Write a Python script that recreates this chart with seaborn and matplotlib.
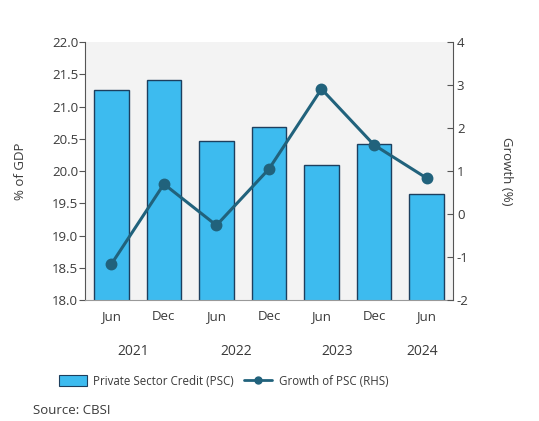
import numpy as np
import pandas as pd
import matplotlib
matplotlib.use("Agg")
import matplotlib.pyplot as plt
import matplotlib.transforms as mtransforms
from matplotlib.patches import Patch
from matplotlib.lines import Line2D
import seaborn as sns

# Private sector credit (% of GDP) and its growth (%), half-yearly
periods = ["Jun 2021", "Dec 2021", "Jun 2022", "Dec 2022", "Jun 2023", "Dec 2023", "Jun 2024"]
month_labels = ["Jun", "Dec", "Jun", "Dec", "Jun", "Dec", "Jun"]
year_labels = ["2021", "2022", "2023", "2024"]
psc_pct_gdp = [21.25, 21.42, 20.47, 20.68, 20.10, 20.42, 19.65]
psc_growth = [-1.16, 0.70, -0.26, 1.05, 2.91, 1.61, 0.84]

df = pd.DataFrame({"period": periods, "psc": psc_pct_gdp, "growth": psc_growth})

sns.set_style("white")
plt.rcParams["font.family"] = ["Open Sans", "DejaVu Sans"]
plt.rcParams["axes.unicode_minus"] = False

text_col = "#3a3a3a"
bar_col = "#3dbbef"
bar_edge = "#1d3f5e"
line_col = "#21627c"
fs = 9.5

fig = plt.figure(figsize=(5.39, 4.21), dpi=100)
ax = fig.add_axes([0.158, 0.287, 0.682, 0.613])
ax.set_facecolor("#f3f3f3")

sns.barplot(data=df, x="period", y="psc", color=bar_col, width=0.66,
            edgecolor=bar_edge, linewidth=1.0, saturation=1, ax=ax)
ax.set_ylim(18.0, 22.0)
ax.set_yticks(np.arange(18.0, 22.01, 0.5))
ax.set_yticklabels([f"{v:.1f}" for v in np.arange(18.0, 22.01, 0.5)])
ax.set_ylabel("% of GDP", fontsize=fs, color=text_col, labelpad=18)
ax.set_xlabel("")
ax.set_xticks(range(len(periods)))
ax.set_xticklabels(month_labels)
ax.set_xticks(np.arange(-0.5, len(periods), 1.0), minor=True)
ax.tick_params(axis="x", which="major", length=0, labelsize=fs, colors=text_col, pad=7)
ax.tick_params(axis="x", which="minor", length=3, color="#888888", direction="out")
ax.tick_params(axis="y", length=4, direction="out", color="#555555",
               labelsize=fs, labelcolor=text_col, pad=1, left=True)
ax.set_xlim(-0.5, len(periods) - 0.5)

ax2 = ax.twinx()
sns.pointplot(data=df, x="period", y="growth", color=line_col, markers="o",
              linestyles="-", ax=ax2)
for ln in ax2.lines:
    ln.set_linewidth(2.2)
    ln.set_markersize(6.5)
ax2.set_ylim(-2, 4)
ax2.set_yticks(range(-2, 5))
ax2.set_ylabel("Growth (%)", fontsize=fs, color=text_col, rotation=270, labelpad=32)
ax2.tick_params(axis="y", length=4, direction="in", color="#555555",
                labelsize=fs, labelcolor=text_col, pad=3, right=True)
ax2.set_xlim(-0.5, len(periods) - 0.5)

for a in (ax, ax2):
    a.spines["top"].set_visible(False)
    a.spines["left"].set_color("#555555")
    a.spines["right"].set_color("#555555")
    a.spines["bottom"].set_color("#999999")
ax2.spines["left"].set_visible(False)
ax.spines["right"].set_visible(False)
ax2.spines["bottom"].set_visible(False)

# Year labels under the month labels
trans = mtransforms.blended_transform_factory(ax.transData, ax.transAxes)
year_pos = [0.42, 2.38, 4.3, 5.92]
for xp, yl in zip(year_pos, year_labels):
    ax.text(xp, -0.2, yl, transform=trans, ha="center", va="center",
            fontsize=fs + 0.5, color=text_col)

handles = [
    Patch(facecolor=bar_col, edgecolor=bar_edge, linewidth=0.8),
    Line2D([0], [0], color=line_col, lw=2, marker="o", markersize=5),
]
fig.legend(handles, ["Private Sector Credit (PSC)", "Growth of PSC (RHS)"],
           loc="center", bbox_to_anchor=(0.415, 0.095), ncol=2, frameon=False,
           fontsize=8.3, labelcolor=text_col, handlelength=2.4, handleheight=1.1,
           columnspacing=0.9, handletextpad=0.6)

fig.text(0.061, 0.026, "Source: CBSI", fontsize=fs, color=text_col, ha="left", va="center")

fig.savefig("out.png", dpi=100)
